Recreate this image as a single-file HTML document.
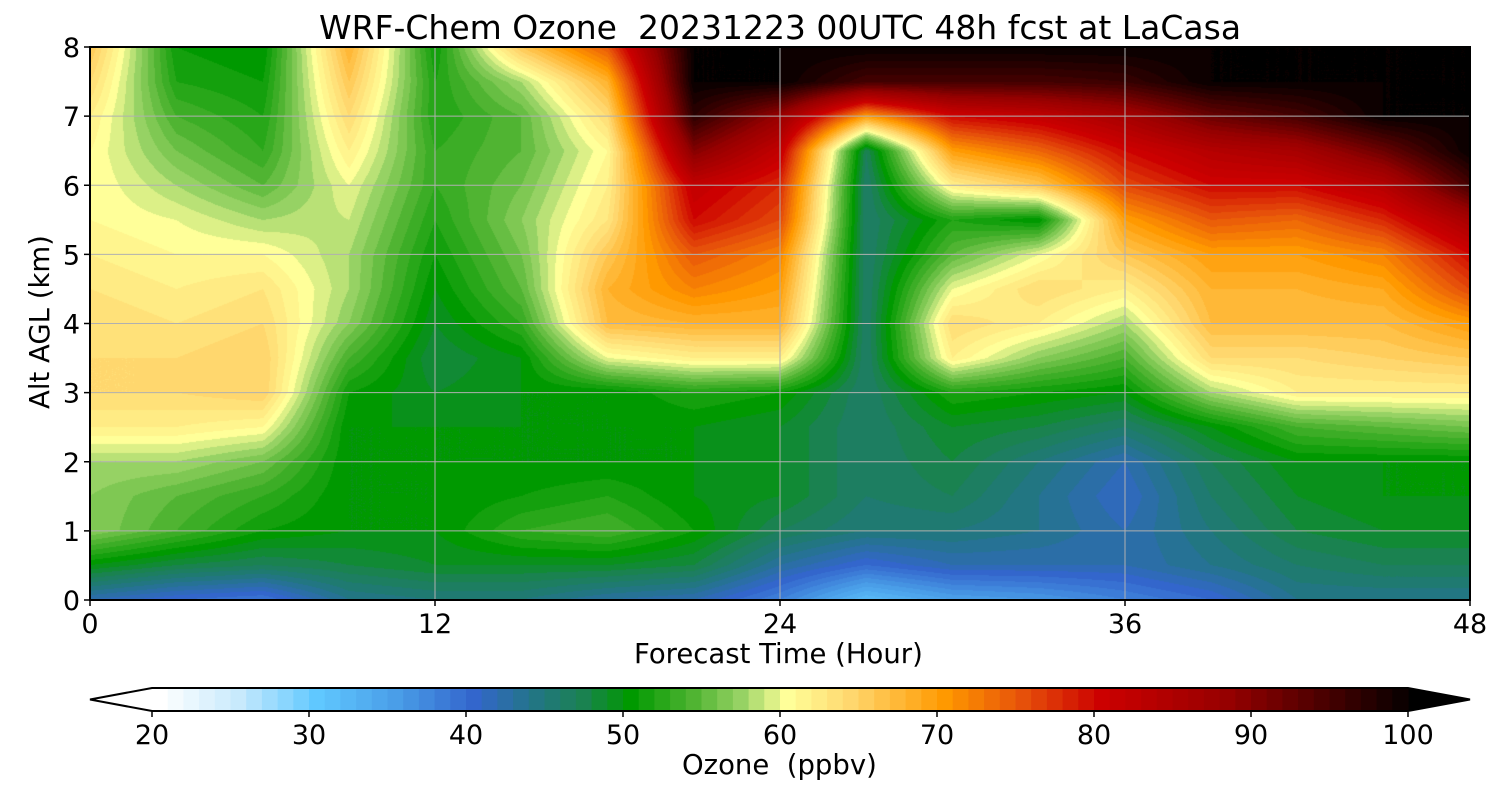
<!DOCTYPE html>
<html><head><meta charset="utf-8">
<style>
body{margin:0;background:#fff;width:1500px;height:800px;overflow:hidden;font-family:"DejaVu Sans","Liberation Sans",sans-serif;}
#wrap{position:relative;width:1500px;height:800px;}
.t{position:absolute;color:#000;white-space:nowrap;}
</style></head>
<body>
<div id="wrap">
<div class="t" style="left:0;width:1560px;text-align:center;top:8px;font-size:33px;">WRF-Chem Ozone&nbsp; 20231223 00UTC 48h fcst at LaCasa</div>
<canvas id="plot" width="1380" height="553" style="position:absolute;left:90px;top:47px;"></canvas>
<svg id="ov" width="1500" height="800" style="position:absolute;left:0;top:0;"></svg>
<div class="t" style="left:634px;top:638px;font-size:27.5px;">Forecast Time (Hour)</div>
<div class="t" style="left:-60px;top:306px;font-size:27.5px;transform:rotate(-90deg);width:200px;text-align:center;">Alt AGL (km)</div>
<div class="t" style="left:682px;top:749px;font-size:27.5px;">Ozone&nbsp; (ppbv)</div>
</div>
<script>
const times=[0,3,6,9,12,15,18,21,24,27,30,33,36,39,42,45,48];
const alts=[0,0.5,1,1.5,2,2.5,3,3.5,4,4.5,5,5.5,6,6.5,7,7.5,8];
// values[timeIndex][altIndex] (ppbv), altitude 0 -> 8 km
const values=[
[42,50,57,57,58,62,64,64,64,63,62,61,61,61,62,64,66],
[40,48,54,55,58,62,64,64,63,62,61,60,58,56,54,52,51],
[39,47,51,53,56,61,65,65,64,63,61,58,55,53,52,51,50],
[44,48,50,50,50,50,51,54,57,58,58,59,60,62,64,66,68],
[45,49,50,50,50,50,49,48,49,50,51,52,53,53,52,52,51],
[45,49,53,51,50,50,50,50,53,55,56,57,56,55,55,58,66],
[43,49,54,52,50,50,50,60,67,68,66,63,62,61,64,68,75],
[42,48,51,50,50,50,52,62,68,72,75,80,82,90,97,100,100],
[38,43,47,49,49,49,51,62,68,70,72,76,78,82,88,100,100],
[32,40,45,46,46,46,46,46,46,46,46,46,46,47,70,95,100],
[35,42,45,47,48,49,52,62,64,60,55,52,62,70,80,95,100],
[36,42,44,44,45,48,51,57,62,64,60,50,66,74,82,95,100],
[38,42,42,41,42,46,50,54,58,62,66,70,76,80,86,96,100],
[40,44,45,46,47,50,58,64,67,68,70,75,80,84,92,100,100],
[44,46,48,49,50,54,62,64,67,68,70,74,80,86,95,100,100],
[44,47,49,50,50,55,62,65,67,69,72,78,84,92,100,100,100],
[44,47,49,50,50,56,62,66,70,76,80,86,95,100,100,100,100]];
const cbTicks=[20,30,40,50,60,70,80,90,100];
const xTicks=[0,12,24,36,48];
const yTicks=[0,1,2,3,4,5,6,7,8];

const stops=[[20,[255,255,255]],[25,[200,234,252]],[30,[96,200,255]],[35,[74,158,232]],[40,[51,102,204]],[44,[34,118,130]],[47,[26,130,80]],[50,[0,153,0]],[54,[80,180,50]],[57,[150,210,100]],[60,[255,255,153]],[64,[255,215,110]],[70,[255,153,0]],[75,[230,80,10]],[80,[204,0,0]],[88,[150,0,0]],[100,[0,0,0]]];
function cmap(v){v=Math.floor(v);if(v<=20)return stops[0][1];if(v>=100)return [0,0,0];
for(let i=1;i<stops.length;i++){if(v<=stops[i][0]){const a=stops[i-1],b=stops[i];const f=(v-a[0])/(b[0]-a[0]);return a[1].map((c,k)=>Math.round(c+(b[1][k]-c)*f));}}return [0,0,0];}

const X0=90,X1=1470,Y0=600,Y1=47;
const xs=t=>X0+(t-0)/48*(X1-X0);
const ys=a=>Y0-(a/8)*(Y0-Y1);
function interp(arr,v){let i=0;while(i<arr.length-2&&v>arr[i+1])i++;return [i,(v-arr[i])/(arr[i+1]-arr[i])];}

const cv=document.getElementById('plot');const ctx=cv.getContext('2d');
const W=cv.width,H=cv.height;const img=ctx.createImageData(W,H);
for(let py=0;py<H;py++){const a=8*(1-py/(H-1));const [j,fy]=interp(alts,a);
for(let px=0;px<W;px++){const t=48*px/(W-1);const [i,fx]=interp(times,t);
const v=values[i][j]*(1-fx)*(1-fy)+values[i+1][j]*fx*(1-fy)+values[i][j+1]*(1-fx)*fy+values[i+1][j+1]*fx*fy;
const c=cmap(v);const o=(py*W+px)*4;img.data[o]=c[0];img.data[o+1]=c[1];img.data[o+2]=c[2];img.data[o+3]=255;}}
ctx.putImageData(img,0,0);

const svg=document.getElementById('ov');const NS='http://www.w3.org/2000/svg';
const FF='DejaVu Sans, Liberation Sans, sans-serif';
function mk(tag,attrs,name,txt){const e=document.createElementNS(NS,tag);for(const k in attrs)e.setAttribute(k,attrs[k]);


if(txt!==undefined)e.textContent=txt;svg.appendChild(e);return e;}
xTicks.forEach(t=>{const x=xs(t);
mk('line',{x1:x,x2:x,y1:Y1,y2:Y0,stroke:'#b0b0b0','stroke-width':1},'x-gridline');
mk('line',{x1:x,x2:x,y1:Y0,y2:Y0+6,stroke:'#000','stroke-width':1.5},'x-tick');
mk('text',{x:x,y:633,'font-size':27,'text-anchor':'middle','font-family':FF},'x-tick-label',String(t));});
yTicks.forEach(a=>{const y=ys(a);
mk('line',{x1:X0,x2:X1,y1:y,y2:y,stroke:'#b0b0b0','stroke-width':1},'y-gridline');
mk('line',{x1:X0-6,x2:X0,y1:y,y2:y,stroke:'#000','stroke-width':1.5},'y-tick');
mk('text',{x:X0-10,y:y+10,'font-size':27,'text-anchor':'end','font-family':FF},'y-tick-label',String(a));});
mk('rect',{x:X0,y:Y1,width:X1-X0,height:Y0-Y1,fill:'none',stroke:'#000','stroke-width':2},'plot-frame');

const C0=152,C1=1408,CT=688,CB=711;const cx=v=>C0+(v-20)/80*(C1-C0);
mk('polygon',{points:`${C0},${CT} 90,${(CT+CB)/2} ${C0},${CB}`,fill:'#fff',stroke:'none'},'colorbar-min-extension');
mk('polygon',{points:`${C1},${CT} 1470,${(CT+CB)/2} ${C1},${CB}`,fill:'#000',stroke:'none'},'colorbar-max-extension');
for(let v=20;v<100;v++){const c=cmap(v+0.5);
mk('rect',{x:cx(v),y:CT,width:cx(v+1)-cx(v)+0.6,height:CB-CT,fill:`rgb(${c[0]},${c[1]},${c[2]})`},'colorbar-bin');}
mk('polygon',{points:`${C0},${CT} ${C1},${CT} 1470,${(CT+CB)/2} ${C1},${CB} ${C0},${CB} 90,${(CT+CB)/2}`,fill:'none',stroke:'#000','stroke-width':2},'colorbar-outline');
cbTicks.forEach(v=>{const x=cx(v);
mk('line',{x1:x,x2:x,y1:CB,y2:CB+6,stroke:'#000','stroke-width':1.5},'colorbar-tick');
mk('text',{x:x,y:744,'font-size':27,'text-anchor':'middle','font-family':FF},'colorbar-tick-label',String(v));});
</script>
</body></html>
